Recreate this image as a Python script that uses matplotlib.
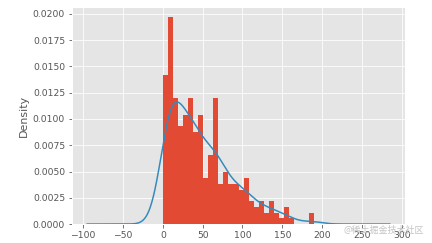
import numpy as np
import matplotlib
matplotlib.use("Agg")
import matplotlib.pyplot as plt

plt.style.use("ggplot")

# Histogram bins (30 bins from 0 to 190) and counts per bin
bin_lo, bin_hi, n_bins = 0.0, 190.0, 30
counts = [26, 36, 22, 17, 19, 22, 16, 19, 8, 12,
          22, 7, 9, 7, 7, 6, 8, 4, 3, 4,
          2, 4, 2, 1, 3, 1, 0, 0, 0, 2]
x_ticks = [-100, -50, 0, 50, 100, 150, 200, 250, 300]
y_ticks = [0.0, 0.0025, 0.005, 0.0075, 0.01, 0.0125, 0.015, 0.0175, 0.02]

edges = np.linspace(bin_lo, bin_hi, n_bins + 1)
centers = (edges[:-1] + edges[1:]) / 2
sample = np.repeat(centers, counts)

fig = plt.figure(figsize=(6, 3.375), dpi=72)
ax = fig.add_axes([0.1667, 0.078, 0.7708, 0.893])

ax.hist(sample, bins=edges, density=True, color="#E24A33")

# Gaussian KDE (Scott's rule), evaluated like pandas plot.kde over the data range
rng = bin_hi - bin_lo
ind = np.linspace(bin_lo - 0.5 * rng, bin_hi + 0.5 * rng, 1000)
bw = sample.std(ddof=1) * len(sample) ** (-1 / 5)
dens = np.exp(-0.5 * ((ind[:, None] - sample[None, :]) / bw) ** 2).sum(axis=1)
dens /= len(sample) * bw * np.sqrt(2 * np.pi)
ax.plot(ind, dens, color="#348ABD", lw=1.5)

ax.set_xticks(x_ticks)
ax.set_yticks(y_ticks)
ax.set_yticklabels([f"{v:.4f}" for v in y_ticks])
ax.tick_params(labelsize=9.2, colors="#555555")
ax.set_ylabel("Density", fontsize=11, color="#555555")

fig.text(0.981, 0.051, "@稀土掘金技术社区", ha="right", va="center",
         fontsize=9, color="#c4c4c4", family=["Noto Sans CJK SC", "DejaVu Sans"])

fig.savefig("out.png", dpi=72)
